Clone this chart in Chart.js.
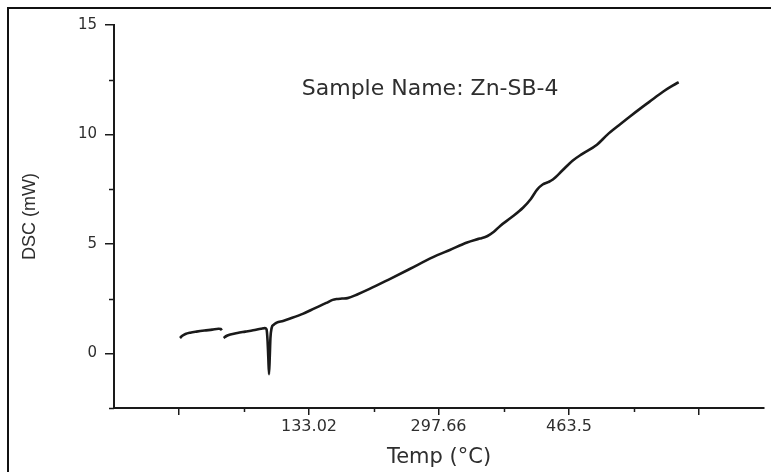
<!DOCTYPE html>
<html>
<head>
<meta charset="utf-8">
<script src="https://cdn.jsdelivr.net/npm/chart.js@4.4.0/dist/chart.umd.min.js"></script>
<style>
  html, body { margin: 0; padding: 0; background: #fff; }
  #wrap { position: relative; width: 771px; height: 472px; overflow: hidden; }
  #frame {
    position: absolute; left: 7px; top: 7px; width: 800px; height: 500px;
    border-left: 2px solid #111; border-top: 2px solid #111;
  }
  canvas { position: absolute; left: 0; top: 0; }
</style>
</head>
<body>
<div id="wrap">
  <div id="frame"></div>
  <canvas id="chart" width="771" height="472"></canvas>
</div>
<script>
// DSC curve (temperature in °C, heat flow in mW); null = gap in trace
const tempValues = [
  -31.0, -28.0, -24.0, -18.0, -10.0, 0.0, 10.0, 18.0, 21.0, 22.0,
  23.0,
  24.5, 28.0, 33.0, 42.0, 52.0, 62.0, 72.0, 77.0, 79.0, 80.3, 81.3, 82.2, 83.1, 84.0, 85.5, 88.0, 92.0,
  100.0, 110.0, 125.0, 140.0, 155.0, 163.0, 168.0, 175.0, 182.0, 195.0, 210.0, 235.0, 261.0,
  290.0, 312.0, 334.0, 350.0, 360.0, 368.0, 376.0, 390.0, 405.0, 415.0, 423.0, 430.0, 437.0,
  443.0, 455.0, 468.0, 480.0, 499.0, 512.0, 527.0, 541.0, 554.0, 566.0, 583.0, 593.0, 601.0, 603.0
];
const dscValues = [
  0.70, 0.80, 0.88, 0.94, 0.99, 1.04, 1.08, 1.12, 1.11, 1.05,
  null,
  0.70, 0.79, 0.86, 0.93, 0.99, 1.05, 1.12, 1.15, 1.10, 0.60, -0.20, -0.95, -0.20, 0.70, 1.15, 1.30, 1.40,
  1.48, 1.60, 1.80, 2.05, 2.30, 2.44, 2.48, 2.50, 2.52, 2.70, 2.94, 3.38, 3.85,
  4.38, 4.72, 5.06, 5.24, 5.36, 5.55, 5.82, 6.20, 6.65, 7.05, 7.48, 7.71, 7.82,
  7.94, 8.35, 8.80, 9.10, 9.53, 9.98, 10.42, 10.82, 11.18, 11.50, 11.95, 12.18, 12.35, 12.38
];

// axis ticks as printed on the original
const xMajorTicks = [-32.2, 133.02, 297.66, 463.5, 628.7];
const xTickLabels = ['', '133.02', '297.66', '463.5', ''];
const xMinorTicks = [50.4, 215.3, 380.6, 546.1];
const yMajorTicks = [0, 5, 10, 15];
const yTickLabels = ['0', '5', '10', '15'];
const yMinorTicks = [-2.5, 2.5, 7.5, 12.5];

const sampleLabel = 'Sample Name: Zn-SB-4';
const sampleAt = { x: 287, y: 12.05 };

const ink = '#1a1a1a';
const textCol = '#2e2e2e';

const points = tempValues.map((t, i) => ({ x: t, y: dscValues[i] }));

// minor tick marks + the sample name note
const extrasPlugin = {
  id: 'extras',
  afterDraw(chart) {
    const { ctx, scales: { x, y } } = chart;
    ctx.save();
    ctx.strokeStyle = ink;
    ctx.lineWidth = 1.5;
    ctx.beginPath();
    xMinorTicks.forEach(v => {
      const px = Math.round(x.getPixelForValue(v)) + 0.5;
      ctx.moveTo(px, y.bottom);
      ctx.lineTo(px, y.bottom + 4);
    });
    yMinorTicks.forEach(v => {
      const py = Math.round(y.getPixelForValue(v)) + 0.5;
      ctx.moveTo(x.left - 5, py);
      ctx.lineTo(x.left, py);
    });
    ctx.stroke();

    ctx.fillStyle = textCol;
    ctx.font = '22px "DejaVu Sans"';
    ctx.textAlign = 'center';
    ctx.textBaseline = 'middle';
    ctx.fillText(sampleLabel, x.getPixelForValue(sampleAt.x), y.getPixelForValue(sampleAt.y));
    ctx.restore();
  }
};

new Chart(document.getElementById('chart').getContext('2d'), {
  type: 'line',
  data: {
    datasets: [{
      data: points,
      borderColor: ink,
      borderWidth: 2.6,
      pointRadius: 0,
      fill: false,
      spanGaps: false,
      cubicInterpolationMode: 'monotone'
    }]
  },
  options: {
    responsive: false,
    animation: false,
    devicePixelRatio: 1,
    layout: { padding: { top: 25, right: 7, left: 0, bottom: 0 } },
    plugins: {
      legend: { display: false },
      tooltip: { enabled: false }
    },
    scales: {
      x: {
        type: 'linear',
        min: -114.85,
        max: 711.37,
        afterFit: s => { s.height = 64; },
        afterBuildTicks: s => { s.ticks = xMajorTicks.map(v => ({ value: v })); },
        grid: { drawOnChartArea: false, drawTicks: true, tickLength: 7, color: ink, lineWidth: 1.5 },
        border: { display: true, color: ink, width: 2 },
        ticks: {
          autoSkip: false,
          maxRotation: 0,
          padding: 2,
          color: textCol,
          font: { family: 'DejaVu Sans', size: 16 },
          callback: v => {
            const i = xMajorTicks.indexOf(v);
            return i >= 0 ? xTickLabels[i] : '';
          }
        },
        title: {
          display: true,
          text: 'Temp (°C)',
          color: textCol,
          font: { family: 'DejaVu Sans', size: 21 },
          padding: { top: 0, bottom: 2 }
        }
      },
      y: {
        min: -2.5,
        max: 15,
        afterFit: s => { s.width = 114; },
        afterBuildTicks: s => { s.ticks = yMajorTicks.map(v => ({ value: v })); },
        grid: { drawOnChartArea: false, drawTicks: true, tickLength: 9, color: ink, lineWidth: 1.5 },
        border: { display: true, color: ink, width: 2 },
        ticks: {
          padding: 8,
          color: textCol,
          font: { family: 'DejaVu Sans', size: 15 },
          callback: v => {
            const i = yMajorTicks.indexOf(v);
            return i >= 0 ? yTickLabels[i] : '';
          }
        },
        title: {
          display: true,
          text: 'DSC (mW)',
          color: textCol,
          font: { family: 'Liberation Sans', size: 18 },
          padding: { top: 19, bottom: 0 }
        }
      }
    }
  },
  plugins: [extrasPlugin]
});
</script>
</body>
</html>
